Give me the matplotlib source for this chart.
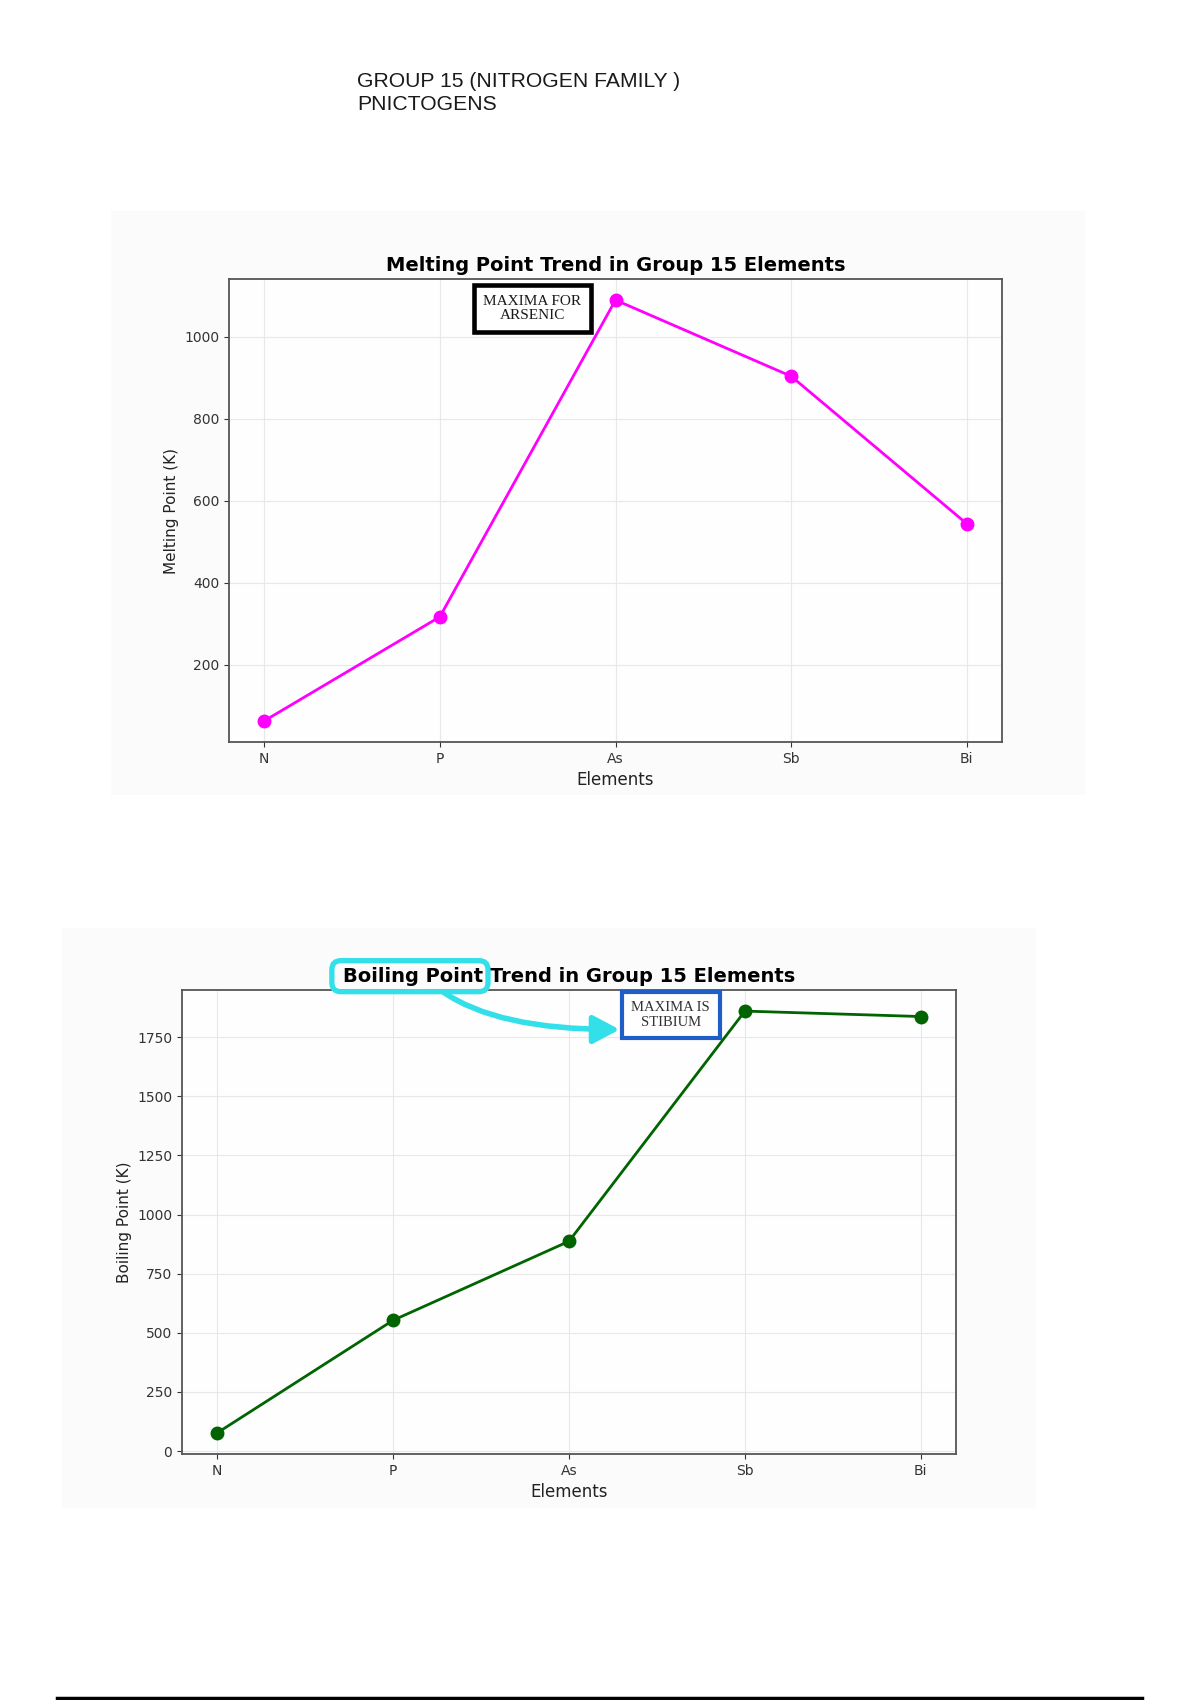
import matplotlib
matplotlib.use('Agg')
import matplotlib.pyplot as plt
from matplotlib.patches import Rectangle, FancyBboxPatch, FancyArrowPatch, ArrowStyle
from matplotlib.lines import Line2D
from matplotlib.transforms import IdentityTransform

# ---------------- data ----------------
elements = ['N', 'P', 'As', 'Sb', 'Bi']
melting_points = [63, 317, 1090, 904, 544]
boiling_points = [77, 553, 887, 1860, 1837]

header_lines = ['GROUP 15 (NITROGEN FAMILY )', 'PNICTOGENS']
melt_title = 'Melting Point Trend in Group 15 Elements'
boil_title = 'Boiling Point Trend in Group 15 Elements'
boil_highlight = 'Boiling Point'
melt_note = 'MAXIMA FOR\nARSENIC'
boil_note = 'MAXIMA IS\nSTIBIUM'

# ---------------- layout ----------------
W, H = 1200, 1700
fig = plt.figure(figsize=(12, 17), dpi=100)
fig.patch.set_facecolor('white')


def fx(px):
    return px / W


def fy(py):
    return 1 - py / H


# light panels behind each pasted chart
for (l, t, r, b) in [(111, 211, 1085, 795), (62, 928, 1036, 1508)]:
    fig.add_artist(Rectangle((fx(l), fy(b)), fx(r) - fx(l), fy(t) - fy(b),
                             transform=fig.transFigure, facecolor='#fbfbfb',
                             edgecolor='none', zorder=-1))

# header
fig.text(fx(357), fy(87), header_lines[0], fontsize=15.2, family='Liberation Sans',
         color='#1a1a1a', va='baseline', ha='left')
fig.text(fx(357), fy(109.5), header_lines[1], fontsize=15.2, family='Liberation Sans',
         color='#1a1a1a', va='baseline', ha='left')

# bottom rule
fig.add_artist(Line2D([fx(57), fx(1142)], [fy(1698), fy(1698)],
                      transform=fig.transFigure, color='black', lw=2.5))


def make_chart(rect, values, color, title, ylabel):
    ax = fig.add_axes(rect)
    ax.set_facecolor('#fefefe')
    x = list(range(len(elements)))
    ax.plot(x, values, color=color, lw=2, marker='o', markersize=9, zorder=3)
    ax.set_xticks(x)
    ax.set_xticklabels(elements)
    ax.set_title(title, fontsize=14, fontweight='bold')
    ax.set_xlabel('Elements', fontsize=12, color='#222222')
    ax.set_ylabel(ylabel, fontsize=11, color='#222222')
    ax.grid(True, color='#e8e8e8', lw=0.8)
    ax.set_axisbelow(True)
    ax.tick_params(labelsize=10, colors='#333333')
    for s in ax.spines.values():
        s.set_color('#555555')
        s.set_linewidth(1.3)
    return ax


ax1 = make_chart([fx(229), fy(742), fx(1002) - fx(229), fy(279) - fy(742)],
                 melting_points, '#ff00ff', melt_title, 'Melting Point (K)')
ax2 = make_chart([fx(182), fy(1454), fx(956) - fx(182), fy(990) - fy(1454)],
                 boiling_points, '#006400', boil_title, 'Boiling Point (K)')

# annotation box on chart 1
ax1.add_patch(Rectangle((0.317, 0.886), 0.151, 0.101, transform=ax1.transAxes,
                        facecolor='white', edgecolor='black', lw=3.3,
                        clip_on=False, zorder=5))
ax1.text(0.3925, 0.9365, melt_note, transform=ax1.transAxes, ha='center', va='center',
         family='Liberation Serif', fontsize=11, color='#1a1a1a',
         linespacing=1.15, zorder=6)

# annotation box on chart 2
bx0, by0, bw, bh = 0.568, 0.897, 0.127, 0.099
ax2.add_patch(Rectangle((bx0, by0), bw, bh, transform=ax2.transAxes,
                        facecolor='white', edgecolor='#1f5ec6', lw=3,
                        clip_on=False, zorder=5))
ax2.text(bx0 + bw / 2, by0 + bh / 2, boil_note, transform=ax2.transAxes,
         ha='center', va='center', family='Liberation Serif', fontsize=10.5,
         color='#333333', linespacing=1.15, zorder=6)

# cyan highlight around "Boiling Point" in the title + curved arrow
fig.canvas.draw()
renderer = fig.canvas.get_renderer()
tb = ax2.title.get_window_extent(renderer)
tmp = fig.text(0, 0, boil_highlight, fontsize=14, fontweight='bold')
hw = tmp.get_window_extent(renderer).width
tmp.remove()

cyan = '#33e0ea'
hx0 = tb.x0 - 11
hx1 = tb.x0 + hw + 5
hy0 = tb.y0 - 6
hy1 = tb.y1 + 6
fig.add_artist(FancyBboxPatch((hx0, hy0), hx1 - hx0, hy1 - hy0,
                              boxstyle='round,pad=0,rounding_size=9',
                              transform=IdentityTransform(), facecolor='none',
                              edgecolor=cyan, lw=3.8, zorder=10))

bl, bb = ax2.transAxes.transform((bx0, by0))
bt = ax2.transAxes.transform((bx0, by0 + bh))[1]
startA = (hx0 + 0.71 * (hx1 - hx0), hy0)
endB = (bl - 2, bb + 0.18 * (bt - bb))
fig.add_artist(FancyArrowPatch(startA, endB,
                               connectionstyle='angle3,angleA=-35,angleB=0',
                               arrowstyle=ArrowStyle('-|>', head_length=1.6, head_width=0.85),
                               mutation_scale=10, color=cyan, lw=4,
                               shrinkA=0, shrinkB=0,
                               transform=IdentityTransform(), zorder=10))

fig.savefig('out.png', dpi=100, facecolor='white')
